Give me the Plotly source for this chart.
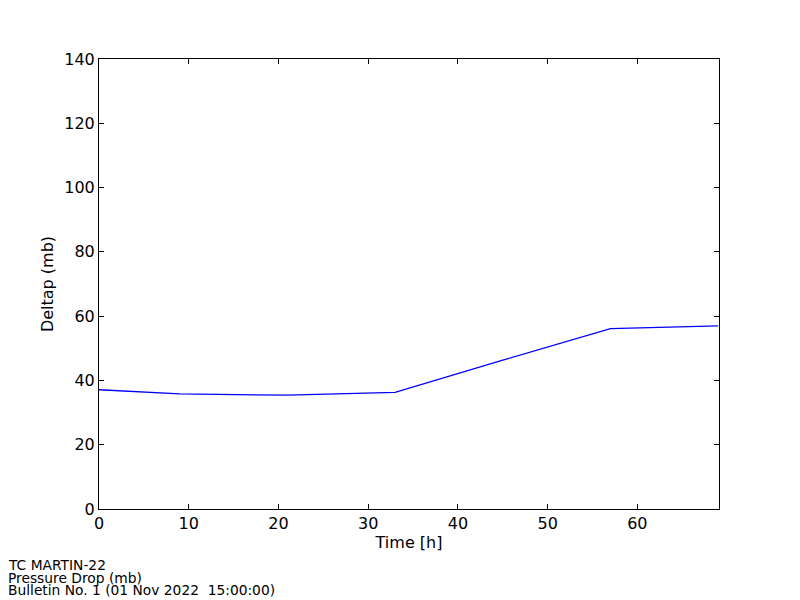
import plotly.graph_objects as go

time_h = [0, 9, 21, 33, 45, 57, 69]
deltap = [37.1, 35.8, 35.4, 36.3, 46.3, 56.1, 57.0]
x_ticks = [0, 10, 20, 30, 40, 50, 60]
y_ticks = [0, 20, 40, 60, 80, 100, 120, 140]
footer = ["TC MARTIN-22", "Pressure Drop (mb)", "Bulletin No. 1 (01 Nov 2022\u00a0\u00a015:00:00)"]

font = "DejaVu Sans"
# page body has an 8px margin, so the figure is placed at (8, 8)
W, H = 784, 592
L, T, PW, PH = 91, 51, 620, 450

fig = go.Figure()
fig.add_trace(go.Scatter(x=time_h, y=deltap, mode="lines",
                         line=dict(color="#0000ff", width=1.3), showlegend=False))

axis_common = dict(showgrid=False, zeroline=False, showline=True, linecolor="black",
                   linewidth=1, mirror="allticks", ticks="inside", ticklen=5,
                   tickcolor="black", tickfont=dict(family=font, size=16, color="black"))
fig.update_xaxes(range=[0, 69.1], tickvals=x_ticks,
                 title=dict(text="Time [h]", font=dict(family=font, size=16, color="black"), standoff=0),
                 **axis_common)
fig.update_yaxes(range=[0, 140], tickvals=y_ticks,
                 title=dict(text="Deltap (mb)", font=dict(family=font, size=16, color="black"), standoff=6),
                 **axis_common)

for i, t in enumerate(footer):
    fig.add_annotation(text=t, xref="paper", yref="paper", x=-(L + 2) / PW, y=-(56 + 12.5 * i) / PH,
                       xanchor="left", yanchor="middle", showarrow=False,
                       font=dict(family=font, size=13.8, color="black"))

fig.update_layout(width=W, height=H, margin=dict(l=L, r=W - L - PW, t=T, b=H - T - PH),
                  paper_bgcolor="white", plot_bgcolor="white",
                  font=dict(family=font, color="black"))
fig.write_html("out.html")
